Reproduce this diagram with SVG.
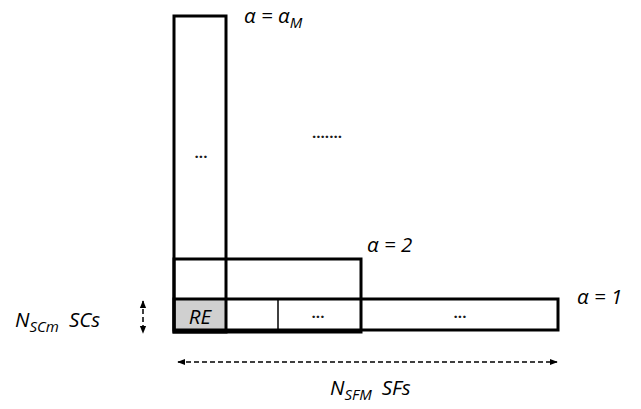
<svg xmlns="http://www.w3.org/2000/svg" width="641" height="409" viewBox="0 0 641 409">
  <style>
    .box { fill: none; stroke: #000; stroke-width: 3; }
    .thin { fill: none; stroke: #000; stroke-width: 1.5; }
    .lbl { font-family: "Open Sans", "Liberation Sans", sans-serif; font-style: italic; font-size: 20.5px; fill: #000; }
    .dots { font-family: "Open Sans", "Liberation Sans", sans-serif; font-weight: bold; font-size: 15px; fill: #1a1a1a; }
    .dash { stroke: #000; stroke-width: 1.5; stroke-dasharray: 5 3; fill: none; }
  </style>
  <defs>
    <marker id="ah" viewBox="0 0 10 10" refX="9" refY="5" markerWidth="8" markerHeight="8" orient="auto-start-reverse" markerUnits="userSpaceOnUse">
      <path d="M0,1 L10,5 L0,9 Z" fill="#000"/>
    </marker>
  </defs>
  <rect width="641" height="409" fill="#fff"/>

  <!-- resource element cell -->
  <g id="re">
    <rect x="174" y="299" width="52" height="33" fill="#d0d0d0"/>
    <text class="lbl" x="200" y="324" text-anchor="middle">RE</text>
  </g>

  <!-- alpha = 1 row -->
  <g id="alpha1">
    <rect class="box" x="174" y="299" width="384" height="31"/>
    <line class="thin" x1="278" y1="299" x2="278" y2="330"/>
    <text class="dots" x="318" y="318" text-anchor="middle">...</text>
    <text class="dots" x="460" y="318" text-anchor="middle">...</text>
    <text class="lbl" x="577" y="304">α = 1</text>
  </g>

  <!-- alpha = 2 block -->
  <g id="alpha2">
    <rect class="box" x="174" y="259" width="187" height="73"/>
    <text class="lbl" x="367" y="252">α = 2</text>
  </g>

  <!-- alpha = alpha_M column -->
  <g id="alphaM">
    <rect class="box" x="174" y="16" width="52" height="316"/>
    <text class="dots" x="201" y="158" text-anchor="middle">...</text>
    <text class="lbl" x="244" y="23">α = α<tspan font-size="15" dy="5">M</tspan></text>
  </g>

  <text class="dots" x="327" y="138" text-anchor="middle">.......</text>

  <!-- extent arrows -->
  <g id="connectors">
    <line class="dash" x1="143" y1="301" x2="143" y2="333" marker-start="url(#ah)" marker-end="url(#ah)"/>
    <line class="dash" x1="178" y1="362" x2="557" y2="362" marker-start="url(#ah)" marker-end="url(#ah)"/>
  </g>

  <g id="scs">
    <text class="lbl" x="15" y="327">N<tspan font-size="15" dy="5">SCm</tspan><tspan dy="-5" dx="10">SCs</tspan></text>
  </g>
  <g id="sfs">
    <text class="lbl" x="330" y="395">N<tspan font-size="15" dy="5">SFM</tspan><tspan dy="-5" dx="10">SFs</tspan></text>
  </g>
</svg>
